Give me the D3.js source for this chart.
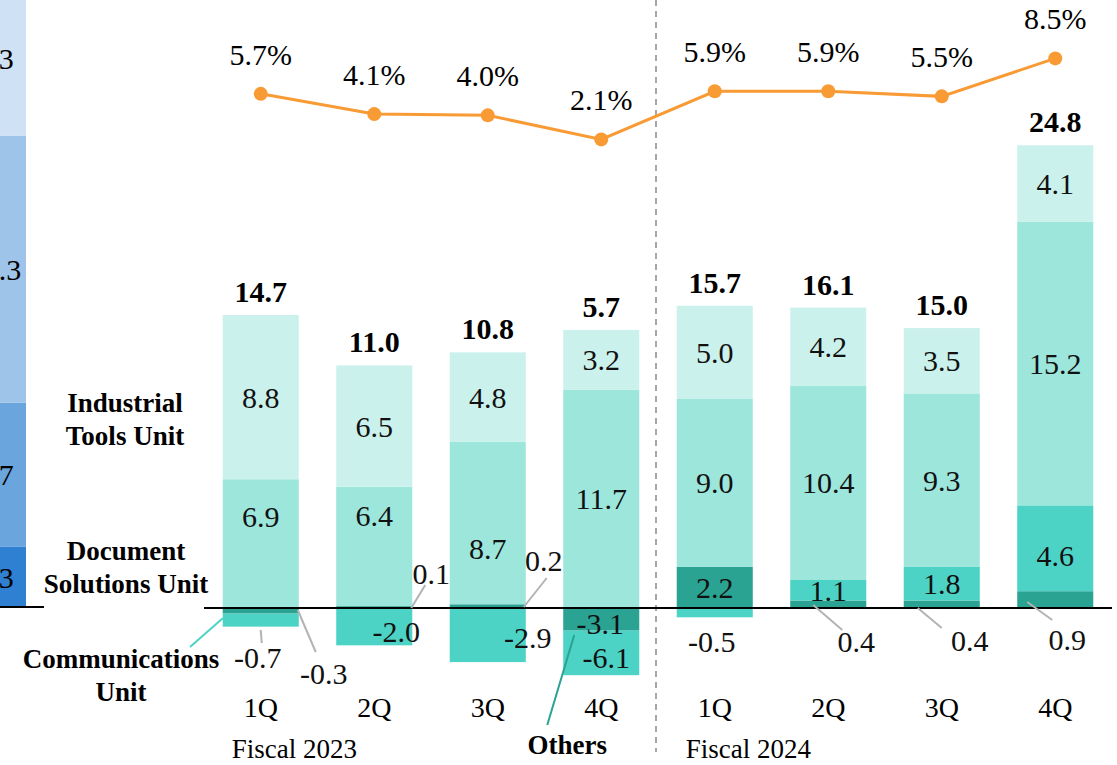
<!DOCTYPE html>
<html>
<head>
<meta charset="utf-8">
<script src="https://cdn.jsdelivr.net/npm/d3@7/dist/d3.min.js"></script>
<style>
  body { margin: 0; background: #fff; }
  svg, svg text { font-family: "Liberation Serif", "Times New Roman", Times, "DejaVu Serif", serif; }
</style>
</head>
<body>
<div id="chart"></div>
<script>
// data
var quarters = ["1Q", "2Q", "3Q", "4Q", "1Q", "2Q", "3Q", "4Q"];
var fiscalYears = ["Fiscal 2023", "Fiscal 2024"];
var industrialTools = [8.8, 6.5, 4.8, 3.2, 5.0, 4.2, 3.5, 4.1];
var documentSolutions = [6.9, 6.4, 8.7, 11.7, 9.0, 10.4, 9.3, 15.2];
var communications = [-0.7, -2.0, -2.9, -6.1, -0.5, 1.1, 1.8, 4.6];
var others = [-0.3, 0.1, 0.2, -3.1, 2.2, 0.4, 0.4, 0.9];
var totals = [14.7, 11.0, 10.8, 5.7, 15.7, 16.1, 15.0, 24.8];
var margins = [5.7, 4.1, 4.0, 2.1, 5.9, 5.9, 5.5, 8.5];
// previous-period bar that is cut off at the left edge (others, comm, doc, tools)
var prevValues = [3.3, 7.7, 14.3, 8.3];

var keys = ["others", "communications", "documentSolutions", "industrialTools"];
var colors = {
  others: "#2aa393",
  communications: "#4dd3c5",
  documentSolutions: "#9de6dc",
  industrialTools: "#cbf1ec"
};
var prevColors = ["#2f80d2", "#6ba5de", "#9fc4ea", "#cfe1f4"];

var table = quarters.map(function(q, i) {
  return {
    i: i,
    others: others[i],
    communications: communications[i],
    documentSolutions: documentSolutions[i],
    industrialTools: industrialTools[i]
  };
});

var width = 1117, height = 765;
var serif = "'Liberation Serif', 'Times New Roman', Times, serif";

var svg = d3.select("#chart")
  .append("svg")
    .attr("width", width)
    .attr("height", height)
    .attr("font-family", serif)
    .style("font-family", serif);

var x = d3.scaleBand()
  .domain(d3.range(quarters.length))
  .range([204, 1112])
  .paddingInner(0.33)
  .paddingOuter(0.165);

var y = d3.scaleLinear()
  .domain([0, 25])
  .range([608, 141.5]);

var yPct = d3.scaleLinear()
  .domain([0, 10])
  .range([166, 39.4]);

var y0 = y(0);

// deep negative stacks are squeezed (as in the original slide)
var negCap = 3.6;
function negFactor(i) {
  var s = d3.sum(keys, function(k) { return Math.min(0, table[i][k]); });
  return s < -negCap ? negCap / -s : 1;
}
function ys(v, i) { return v < 0 ? y(v * negFactor(i)) : y(v); }

var stack = d3.stack()
  .keys(keys)
  .offset(d3.stackOffsetDiverging)(table);

// left cut-off bar
var xPrev = d3.scaleBand().domain([0]).range([-50, 26]);
var prevStack = d3.cumsum(prevValues);
svg.selectAll(".prev")
  .data(prevValues)
  .enter()
  .append("rect")
    .attr("x", xPrev(0))
    .attr("width", xPrev.bandwidth())
    .attr("y", function(d, j) { return y(prevStack[j]); })
    .attr("height", function(d) { return y(0) - y(d); })
    .attr("fill", function(d, j) { return prevColors[j]; });
svg.selectAll(".prevLabel")
  .data(prevValues)
  .enter()
  .append("text")
    .attr("x", xPrev(0) + xPrev.bandwidth() / 2 + 7)
    .attr("y", function(d, j) { return (y(prevStack[j]) + y(prevStack[j] - d)) / 2; })
    .attr("dy", "0.35em")
    .attr("text-anchor", "middle")
    .style("font-size", "30px")
    .text(function(d) { return d.toFixed(1); });
svg.append("line")
  .attr("x1", 0).attr("x2", 44)
  .attr("y1", y0 - 1).attr("y2", y0 - 1)
  .attr("stroke", "#000")
  .attr("stroke-width", 2);

// dashed fiscal-year divider
var divX = (x(3) + x.bandwidth() + x(4)) / 2 - 2;
svg.append("line")
  .attr("x1", divX).attr("x2", divX)
  .attr("y1", 0).attr("y2", 752)
  .attr("stroke", "#8a8a8a")
  .attr("stroke-width", 1.5)
  .attr("stroke-dasharray", "6,5");

// bars
svg.selectAll(".series")
  .data(stack)
  .enter()
  .append("g")
    .attr("fill", function(d) { return colors[d.key]; })
  .selectAll("rect")
  .data(function(d) { return d; })
  .enter()
  .append("rect")
    .attr("x", function(d) { return x(d.data.i); })
    .attr("width", x.bandwidth())
    .attr("y", function(d) { return Math.min(ys(d[0], d.data.i), ys(d[1], d.data.i)); })
    .attr("height", function(d) { return Math.abs(ys(d[0], d.data.i) - ys(d[1], d.data.i)); });

// zero line
svg.append("line")
  .attr("x1", 204).attr("x2", 1112)
  .attr("y1", y0).attr("y2", y0)
  .attr("stroke", "#000")
  .attr("stroke-width", 2);

// label placement overrides: dx from bar centre, dz from zero line, leader [x1,z1,x2,z2]
var labelNudge = {
  "0-communications": {dx: -3, dz: 49, leader: [0, 22, 1, 35]},
  "0-others": {dx: 63, dz: 65, leader: [37, 2, 55, 44]},
  "1-others": {dx: 57, dz: -35, leader: [37, 0, 51, -23]},
  "1-communications": {dx: 22, dz: 23},
  "2-others": {dx: 56, dz: -48, leader: [36, -1, 59, -30]},
  "2-communications": {dx: 40, dz: 29},
  "3-others": {dx: -1, dz: 15},
  "3-communications": {dx: 5, dz: 49},
  "4-communications": {dx: -3, dz: 33},
  "5-others": {dx: 28, dz: 33, leader: [-15, -3, 14, 22]},
  "6-others": {dx: 28, dz: 32, leader: [-24, 0, 0, 20]},
  "7-others": {dx: 12, dz: 31, leader: [-28, -6, -3, 12]},
  "7-communications": {ddy: 7},
  "0-documentSolutions": {ddy: -27},
  "1-documentSolutions": {ddy: -31},
  "2-documentSolutions": {ddy: 25}
};

var segLabels = [];
stack.forEach(function(s) {
  s.forEach(function(d) {
    var i = d.data.i;
    var v = d.data[s.key];
    var cx = x(i) + x.bandwidth() / 2;
    var n = labelNudge[i + "-" + s.key] || {};
    var lx = cx, ly = (ys(d[0], i) + ys(d[1], i)) / 2;
    if (n.dz !== undefined) { lx = cx + n.dx; ly = y0 + n.dz; }
    if (n.ddy) ly += n.ddy;
    segLabels.push({v: v, x: lx, y: ly, cx: cx, leader: n.leader});
  });
});

svg.selectAll(".leader")
  .data(segLabels.filter(function(d) { return d.leader; }))
  .enter()
  .append("line")
    .attr("x1", function(d) { return d.cx + d.leader[0]; })
    .attr("y1", function(d) { return y0 + d.leader[1]; })
    .attr("x2", function(d) { return d.cx + d.leader[2]; })
    .attr("y2", function(d) { return y0 + d.leader[3]; })
    .attr("stroke", "#b3b3b3")
    .attr("stroke-width", 2);

svg.selectAll(".segLabel")
  .data(segLabels)
  .enter()
  .append("text")
    .attr("x", function(d) { return d.x; })
    .attr("y", function(d) { return d.y; })
    .attr("dy", "0.35em")
    .attr("text-anchor", "middle")
    .style("font-size", "30px")
    .style("fill", "#111")
    .text(function(d) { return d.v.toFixed(1); });

// totals
svg.selectAll(".total")
  .data(totals)
  .enter()
  .append("text")
    .attr("x", function(d, i) { return x(i) + x.bandwidth() / 2; })
    .attr("y", function(d, i) { return y(stack[stack.length - 1][i][1]) - 13; })
    .attr("text-anchor", "middle")
    .style("font-size", "30px")
    .style("font-weight", "bold")
    .text(function(d) { return d.toFixed(1); });

// margin line
var line = d3.line()
  .x(function(d, i) { return x(i) + x.bandwidth() / 2; })
  .y(function(d) { return yPct(d); });
svg.append("path")
  .datum(margins)
  .attr("d", line)
  .attr("fill", "none")
  .attr("stroke", "#f99b35")
  .attr("stroke-width", 3);
svg.selectAll(".dot")
  .data(margins)
  .enter()
  .append("circle")
    .attr("cx", function(d, i) { return x(i) + x.bandwidth() / 2; })
    .attr("cy", function(d) { return yPct(d); })
    .attr("r", 7)
    .attr("fill", "#f99b35");
svg.selectAll(".pct")
  .data(margins)
  .enter()
  .append("text")
    .attr("x", function(d, i) { return x(i) + x.bandwidth() / 2; })
    .attr("y", function(d) { return yPct(d) - 29; })
    .attr("text-anchor", "middle")
    .style("font-size", "30px")
    .text(function(d) { return d.toFixed(1) + "%"; });

// quarter + fiscal labels
svg.selectAll(".q")
  .data(quarters)
  .enter()
  .append("text")
    .attr("x", function(d, i) { return x(i) + x.bandwidth() / 2; })
    .attr("y", y0 + 109)
    .attr("text-anchor", "middle")
    .style("font-size", "28px")
    .text(function(d) { return d; });
svg.selectAll(".fy")
  .data(fiscalYears)
  .enter()
  .append("text")
    .attr("x", function(d, j) { return x(j * 4) + x.bandwidth() / 2 - 29; })
    .attr("y", y0 + 150)
    .style("font-size", "27px")
    .text(function(d) { return d; });

// segment names
var first = 0;
function segMid(k) {
  var s = stack[keys.indexOf(k)][first];
  return (ys(s[0], first) + ys(s[1], first)) / 2;
}
var unitLabels = [
  {lines: ["Industrial", "Tools Unit"], x: 125, y: segMid("industrialTools") + 15},
  {lines: ["Document", "Solutions Unit"], x: 126, y: segMid("documentSolutions") + 16},
  {lines: ["Communications", "Unit"], x: 121, y: y0 + 60}
];
unitLabels.forEach(function(u) {
  var t = svg.append("text")
    .attr("text-anchor", "middle")
    .style("font-size", "27px")
    .style("font-weight", "bold");
  u.lines.forEach(function(l, j) {
    t.append("tspan").attr("x", u.x).attr("y", u.y + j * 33).text(l);
  });
});

// communications pointer
var c0 = stack[keys.indexOf("communications")][0];
svg.append("line")
  .attr("x1", x(0)).attr("y1", (ys(c0[0], 0) + ys(c0[1], 0)) / 2 - 2)
  .attr("x2", 190).attr("y2", y0 + 39)
  .attr("stroke", colors.communications)
  .attr("stroke-width", 2);

// others pointer
var cx3 = x(3) + x.bandwidth() / 2;
svg.append("line")
  .attr("x1", cx3 - 27).attr("y1", y0 + 27)
  .attr("x2", cx3 - 54).attr("y2", y0 + 117)
  .attr("stroke", colors.others)
  .attr("stroke-width", 2);
svg.append("text")
  .attr("x", cx3 - 34)
  .attr("y", y0 + 146)
  .attr("text-anchor", "middle")
  .style("font-size", "27px")
  .style("font-weight", "bold")
  .text("Others");
</script>
</body>
</html>
